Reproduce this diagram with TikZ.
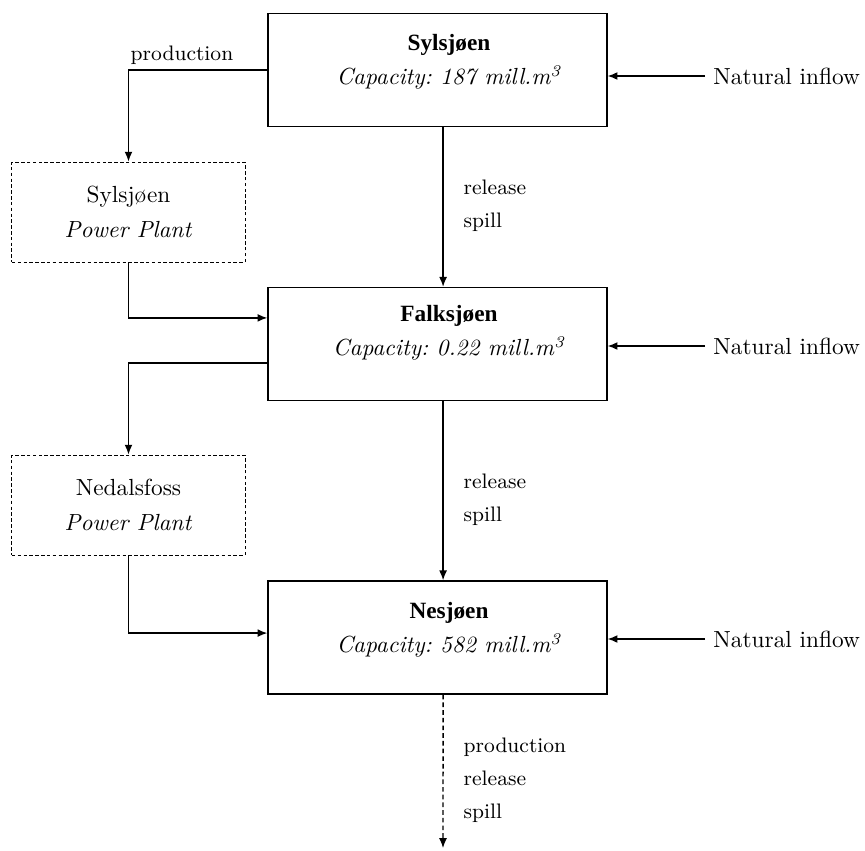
\documentclass[tikz,border=0pt]{standalone}
\usepackage{fontspec}
\newfontfamily\titlefont{Liberation Serif}
\usetikzlibrary{arrows.meta}
\frenchspacing

\begin{document}
\begin{tikzpicture}
	[x=0.429pt, y=-0.429pt, semithick,
	reservoir/.style={rectangle,draw,minimum width=145.4pt,minimum height=48.5pt},
	restext/.style={align=center,inner sep=0pt},
	plant/.style={rectangle,draw,thin,dash pattern=on 1.5pt off 1pt,minimum width=100pt,minimum height=42.9pt,align=center},
	flowlabel/.style={font=\small,align=left,anchor=west,inner sep=0pt},
	inflow/.style={anchor=west},
	flow/.style={-{Latex[length=4.2pt,width=3.4pt]}}]
	\useasboundingbox (0,0) rectangle (865,850);
	\node (syl) [reservoir] at (437.5,70) {};
	\node (sylT) [restext] at (449,62) {{\titlefont\bfseries Sylsjøen}\\[2.5pt]\textit{Capacity: 187 mill.m\textsuperscript{3}}};
	\node (fal) [reservoir] at (437.5,344) {};
	\node (falT) [restext] at (449,333) {{\titlefont\bfseries Falksjøen}\\[2.5pt]\textit{Capacity: 0.22 mill.m\textsuperscript{3}}};
	\node (nes) [reservoir] at (437.5,637.5) {};
	\node (nesT) [restext] at (449,630) {{\titlefont\bfseries Nesjøen}\\[2.5pt]\textit{Capacity: 582 mill.m\textsuperscript{3}}};
	\node (sylPP) [plant] at (128.5,212) {Sylsjøen\\[3pt]\textit{Power Plant}};
	\node (nedPP) [plant] at (128.5,505) {Nedalsfoss\\[3pt]\textit{Power Plant}};
	\node (inSyl) [inflow] at (705,76) {Natural inflow};
	\node (inFal) [inflow] at (705,346) {Natural inflow};
	\node (inNes) [inflow] at (705,639) {Natural inflow};
	\node (prodSyl) [font=\small,inner sep=0pt] at (182,55) {production};
	\node (relSyl) [flowlabel] at (463,206) {release\\[3.2pt]spill};
	\node (relFal) [flowlabel] at (463,500) {release\\[3.2pt]spill};
	\node (outNes) [flowlabel] at (463,780) {production\\[3.2pt]release\\[3.2pt]spill};
	\coordinate (outEnd) at (443,848);
	\draw [flow] (syl.west) -| (sylPP.north);
	\draw [flow] (sylPP.south) |- ([yshift=11.2pt]fal.west);
	\draw [flow] ([yshift=-8.2pt]fal.west) -| (nedPP.north);
	\draw [flow] (nedPP.south) |- ([yshift=1.9pt]nes.west);
	\draw [flow] ([xshift=2.4pt]syl.south) -- ([xshift=2.4pt]fal.north);
	\draw [flow] ([xshift=2.4pt]fal.south) -- ([xshift=2.4pt]nes.north);
	\draw [flow,dash pattern=on 2pt off 1.3pt] ([xshift=2.4pt]nes.south) -- (outEnd);
	\draw [flow] (inSyl.west) -- (inSyl.west -| syl.east);
	\draw [flow] (inFal.west) -- (inFal.west -| fal.east);
	\draw [flow] (inNes.west) -- (inNes.west -| nes.east);
\end{tikzpicture}
\end{document}
